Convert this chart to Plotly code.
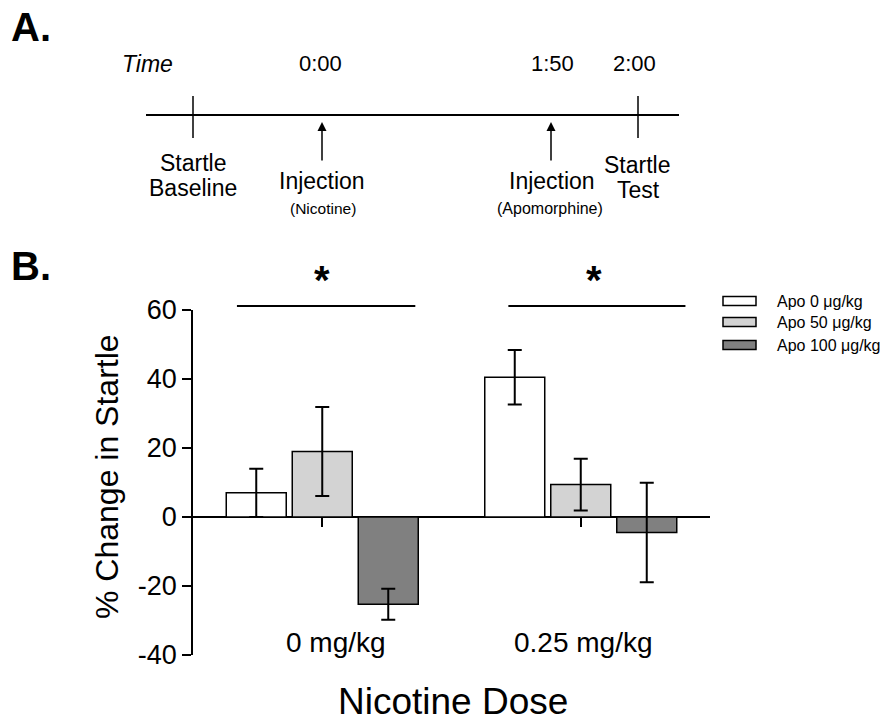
import plotly.graph_objects as go

# ---------------- data ----------------
doses = ["0 mg/kg", "0.25 mg/kg"]
series_names = ["Apo 0 μg/kg", "Apo 50 μg/kg", "Apo 100 μg/kg"]
apo0_mean = [7.0, 40.5]
apo0_sem = [7.0, 7.9]
apo50_mean = [19.0, 9.4]
apo50_sem = [12.9, 7.5]
apo100_mean = [-25.3, -4.5]
apo100_sem = [4.5, 14.4]
y_tick_vals = [-40, -20, 0, 20, 40, 60]
y_tick_text = ["-40", "-20", "0", "20", "40", "60"]
sig_marks = ["*", "*"]
time_labels = ["0:00", "1:50", "2:00"]
event_top = ["Startle", "Injection", "Injection", "Startle"]
event_bottom = ["Baseline", "(Nicotine)", "(Apomorphine)", "Test"]

means = [apo0_mean, apo50_mean, apo100_mean]
sems = [apo0_sem, apo50_sem, apo100_sem]
colors = ["#ffffff", "#d3d3d3", "#808080"]

W, H = 886, 721
FONT = "Liberation Sans, Arial, sans-serif"


def px(x):
    return x / W


def py(y):
    return 1 - y / H


fig = go.Figure()
for name, m, s, c in zip(series_names, means, sems, colors):
    fig.add_trace(go.Bar(
        x=doses, y=m, name=name,
        marker=dict(color=c, line=dict(color="black", width=1.5)),
        error_y=dict(type="data", array=s, color="black", thickness=2, width=7),
        showlegend=False,
    ))

shapes = []
annotations = []

# ---------- panel B extras ----------
sig_spans = [(-0.33, 0.36), (0.72, 1.405)]
for (x0, x1), mark, cx in zip(sig_spans, sig_marks, [0.0, 1.05]):
    shapes.append(dict(type="line", xref="x", yref="paper", x0=x0, x1=x1,
                       y0=py(306), y1=py(306), line=dict(color="black", width=2)))
    annotations.append(dict(xref="x", yref="paper", x=cx, y=py(280), text="<b>%s</b>" % mark,
                            showarrow=False, font=dict(size=40, color="black", family=FONT),
                            xanchor="center", yanchor="middle"))

for d, xs in zip(doses, [14, 3]):
    annotations.append(dict(xref="x", yref="paper", x=d, y=py(642), text=d, xshift=xs,
                            showarrow=False, font=dict(size=28, color="black", family=FONT),
                            xanchor="center", yanchor="middle"))

annotations.append(dict(xref="paper", yref="paper", x=px(453), y=py(701), text="Nicotine Dose",
                        showarrow=False, font=dict(size=37, color="black", family=FONT),
                        xanchor="center", yanchor="middle"))
annotations.append(dict(xref="paper", yref="paper", x=px(107), y=py(477), text="% Change in Startle",
                        textangle=-90, showarrow=False,
                        font=dict(size=32, color="black", family=FONT),
                        xanchor="center", yanchor="middle"))

legend_rows = [301, 322, 345]
for name, c, ry in zip(series_names, colors, legend_rows):
    shapes.append(dict(type="rect", xref="paper", yref="paper", x0=px(723), x1=px(756),
                       y0=py(ry + 4.5), y1=py(ry - 4.5), fillcolor=c,
                       line=dict(color="black", width=1.5)))
    annotations.append(dict(xref="paper", yref="paper", x=px(775), y=py(ry), text=name,
                            showarrow=False, font=dict(size=16, color="black", family=FONT),
                            xanchor="left", yanchor="middle"))

for lbl, (lx, ly) in zip(["A.", "B."], [(31, 27), (31, 266)]):
    annotations.append(dict(xref="paper", yref="paper", x=px(lx), y=py(ly), text="<b>%s</b>" % lbl,
                            showarrow=False, font=dict(size=40, color="black", family=FONT),
                            xanchor="center", yanchor="middle"))

# ---------- panel A timeline ----------
shapes.append(dict(type="line", xref="paper", yref="paper", x0=px(146), x1=px(679),
                   y0=py(115), y1=py(115), line=dict(color="black", width=2)))
for tx in [193, 638]:
    shapes.append(dict(type="line", xref="paper", yref="paper", x0=px(tx), x1=px(tx),
                       y0=py(96), y1=py(138), line=dict(color="black", width=1.5)))
for ax_x in [322, 551]:
    annotations.append(dict(xref="paper", yref="paper", x=px(ax_x), y=py(122), text="",
                            showarrow=True, ax=0, ay=40, arrowhead=2, arrowsize=1.2,
                            arrowwidth=1.5, arrowcolor="black"))

annotations.append(dict(xref="paper", yref="paper", x=px(147), y=py(64), text="<i>Time</i>",
                        showarrow=False, font=dict(size=23, color="black", family=FONT),
                        xanchor="center", yanchor="middle"))
for t, tx in zip(time_labels, [320, 552, 634]):
    annotations.append(dict(xref="paper", yref="paper", x=px(tx), y=py(64), text=t,
                            showarrow=False, font=dict(size=22, color="black", family=FONT),
                            xanchor="center", yanchor="middle"))

top_pos = [(193, 163), (322, 181), (552, 181), (637, 165)]
bot_pos = [(193, 188), (323, 208), (550, 208), (638, 190)]
bot_size = [23, 15.5, 16, 23]
for t, (tx, ty) in zip(event_top, top_pos):
    annotations.append(dict(xref="paper", yref="paper", x=px(tx), y=py(ty), text=t,
                            showarrow=False, font=dict(size=23, color="black", family=FONT),
                            xanchor="center", yanchor="middle"))
for t, (tx, ty), fs in zip(event_bottom, bot_pos, bot_size):
    annotations.append(dict(xref="paper", yref="paper", x=px(tx), y=py(ty), text=t,
                            showarrow=False, font=dict(size=fs, color="black", family=FONT),
                            xanchor="center", yanchor="middle"))

fig.update_layout(
    width=W, height=H,
    margin=dict(l=0, r=0, t=0, b=0, autoexpand=False),
    paper_bgcolor="white", plot_bgcolor="white",
    barmode="group", bargap=0.234, bargroupgap=0.091,
    font=dict(family=FONT, color="black"),
    xaxis=dict(domain=[px(193), px(710)], type="category", range=[-0.5, 1.5],
               anchor="free", position=py(516.7), showline=False, showgrid=False,
               zeroline=False, ticks="outside", ticklen=9, tickwidth=1.5,
               tickcolor="black", showticklabels=False, automargin=False),
    yaxis=dict(domain=[py(655), py(310)], range=[-40, 60], tickvals=y_tick_vals,
               ticktext=y_tick_text, ticks="outside", ticklen=9, tickwidth=1.5,
               tickcolor="black", showline=True, linecolor="black", linewidth=1.5,
               showgrid=False, zeroline=True, zerolinecolor="black", zerolinewidth=1.5,
               tickfont=dict(size=27, color="black", family=FONT), automargin=False),
    shapes=shapes, annotations=annotations,
)

fig.write_html("out.html")
